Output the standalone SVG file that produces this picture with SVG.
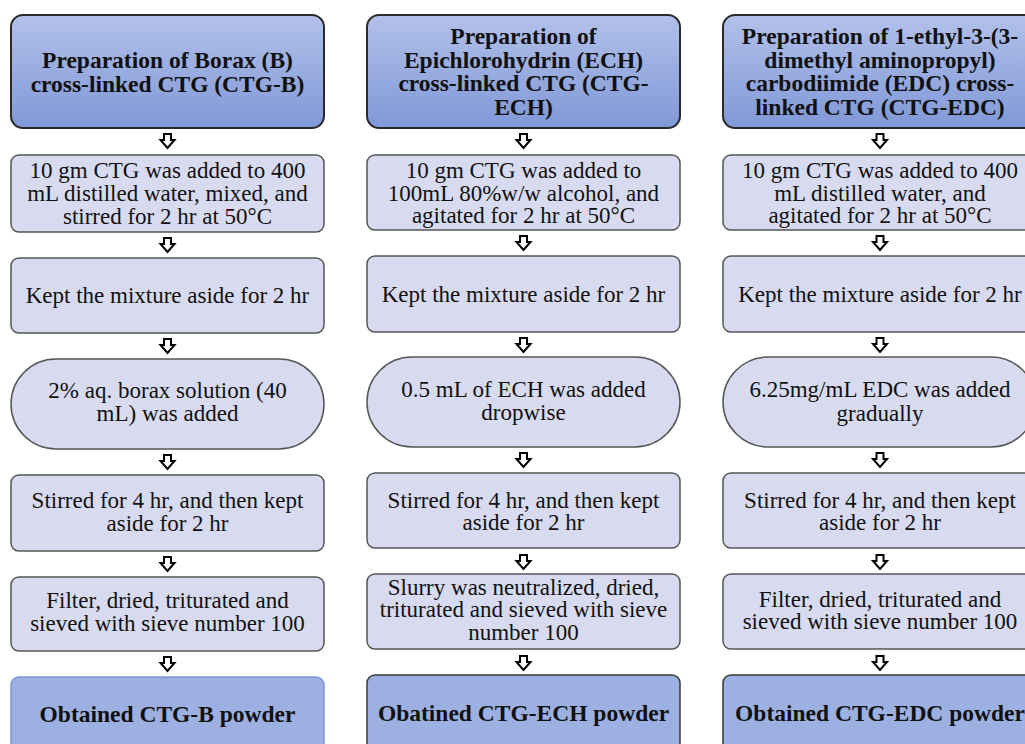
<svg xmlns="http://www.w3.org/2000/svg" xmlns:xlink="http://www.w3.org/1999/xlink" width="1025" height="744" viewBox="0 0 1025 744">
<defs>
<linearGradient id="hg" x1="0" y1="0" x2="0" y2="1">
<stop offset="0" stop-color="#B3C1EA"/>
<stop offset="1" stop-color="#7F98D7"/>
</linearGradient>
<path id="arr" d="M-3.5,0 h7 v6 h3.5 l-7,8 l-7,-8 h3.5 z" fill="#fff" stroke="#000" stroke-width="2" stroke-linejoin="miter"/>
<style>
.hdr{fill:url(#hg);stroke:#2a2a2a;stroke-width:2}
.step{fill:#D8DBEF;stroke:#555;stroke-width:1.5}
.fin{fill:#9CB1E2;stroke:#3a3a3a;stroke-width:1.5}
.fin1{fill:#9CB1E2;stroke:#7C96D4;stroke-width:1.5}
text{font-family:"Liberation Serif","Times New Roman",serif;fill:#111;text-anchor:middle}
.b{font-weight:bold;font-size:23.5px}
.n{font-size:23px}
</style>
</defs>
<rect width="1025" height="744" fill="#fff"/>

<g id="col1">
<g id="c1-h"><rect class="hdr" x="11" y="15" width="313" height="113" rx="12"/>
<text class="b" x="167.5" y="68">Preparation of Borax (B)</text>
<text class="b" x="167.5" y="92">cross-linked CTG (CTG-B)</text></g>
<g id="c1-s1"><rect class="step" x="11" y="155" width="313" height="77" rx="8"/>
<text class="n" x="167.5" y="178">10 gm CTG was added to 400</text>
<text class="n" x="167.5" y="201">mL distilled water, mixed, and</text>
<text class="n" x="167.5" y="224">stirred for 2 hr at 50°C</text></g>
<g id="c1-s2"><rect class="step" x="11" y="258" width="313" height="75" rx="8"/>
<text class="n" x="167.5" y="303">Kept the mixture aside for 2 hr</text></g>
<g id="c1-s3"><rect class="step" x="11" y="359" width="313" height="90" rx="45"/>
<text class="n" x="167.5" y="398">2% aq. borax solution (40</text>
<text class="n" x="167.5" y="421">mL) was added</text></g>
<g id="c1-s4"><rect class="step" x="11" y="475" width="313" height="76" rx="8"/>
<text class="n" x="167.5" y="508">Stirred for 4 hr, and then kept</text>
<text class="n" x="167.5" y="531">aside for 2 hr</text></g>
<g id="c1-s5"><rect class="step" x="11" y="577" width="313" height="74" rx="8"/>
<text class="n" x="167.5" y="608">Filter, dried, triturated and</text>
<text class="n" x="167.5" y="631">sieved with sieve number 100</text></g>
<g id="c1-f"><rect class="fin1" x="11" y="677" width="313" height="80" rx="8"/>
<text class="b" x="167.5" y="722">Obtained CTG-B powder</text></g>
</g>

<g id="col2">
<g id="c2-h"><rect class="hdr" x="367" y="15" width="313" height="113" rx="12"/>
<text class="b" x="523.5" y="44">Preparation of</text>
<text class="b" x="523.5" y="67.5">Epichlorohydrin (ECH)</text>
<text class="b" x="523.5" y="91">cross-linked CTG (CTG-</text>
<text class="b" x="523.5" y="114.5">ECH)</text></g>
<g id="c2-s1"><rect class="step" x="367" y="155" width="313" height="75" rx="8"/>
<text class="n" x="523.5" y="178">10 gm CTG was added to</text>
<text class="n" x="523.5" y="201">100mL 80%w/w alcohol, and</text>
<text class="n" x="523.5" y="223">agitated for 2 hr at 50°C</text></g>
<g id="c2-s2"><rect class="step" x="367" y="256" width="313" height="76" rx="8"/>
<text class="n" x="523.5" y="302">Kept the mixture aside for 2 hr</text></g>
<g id="c2-s3"><rect class="step" x="367" y="357" width="313" height="90" rx="45"/>
<text class="n" x="523.5" y="397">0.5 mL of ECH was added</text>
<text class="n" x="523.5" y="420">dropwise</text></g>
<g id="c2-s4"><rect class="step" x="367" y="473" width="313" height="75" rx="8"/>
<text class="n" x="523.5" y="508">Stirred for 4 hr, and then kept</text>
<text class="n" x="523.5" y="530">aside for 2 hr</text></g>
<g id="c2-s5"><rect class="step" x="367" y="574" width="313" height="75" rx="8"/>
<text class="n" x="523.5" y="595">Slurry was neutralized, dried,</text>
<text class="n" x="523.5" y="617">triturated and sieved with sieve</text>
<text class="n" x="523.5" y="640">number 100</text></g>
<g id="c2-f"><rect class="fin" x="367" y="675" width="313" height="82" rx="8"/>
<text class="b" x="523.5" y="721">Obatined CTG-ECH powder</text></g>
</g>

<g id="col3">
<g id="c3-h"><rect class="hdr" x="723" y="15" width="313" height="113" rx="12"/>
<text class="b" x="880" y="44">Preparation of 1-ethyl-3-(3-</text>
<text class="b" x="880" y="67.5">dimethyl aminopropyl)</text>
<text class="b" x="880" y="91">carbodiimide (EDC) cross-</text>
<text class="b" x="880" y="114.5">linked CTG (CTG-EDC)</text></g>
<g id="c3-s1"><rect class="step" x="723" y="155" width="313" height="75" rx="8"/>
<text class="n" x="880" y="178">10 gm CTG was added to 400</text>
<text class="n" x="880" y="201">mL distilled water, and</text>
<text class="n" x="880" y="223">agitated for 2 hr at 50°C</text></g>
<g id="c3-s2"><rect class="step" x="723" y="256" width="313" height="76" rx="8"/>
<text class="n" x="880" y="302">Kept the mixture aside for 2 hr</text></g>
<g id="c3-s3"><rect class="step" x="723" y="357" width="313" height="90" rx="45"/>
<text class="n" x="880" y="397">6.25mg/mL EDC was added</text>
<text class="n" x="880" y="421">gradually</text></g>
<g id="c3-s4"><rect class="step" x="723" y="473" width="313" height="75" rx="8"/>
<text class="n" x="880" y="508">Stirred for 4 hr, and then kept</text>
<text class="n" x="880" y="530">aside for 2 hr</text></g>
<g id="c3-s5"><rect class="step" x="723" y="574" width="313" height="75" rx="8"/>
<text class="n" x="880" y="607">Filter, dried, triturated and</text>
<text class="n" x="880" y="629">sieved with sieve number 100</text></g>
<g id="c3-f"><rect class="fin" x="723" y="675" width="313" height="82" rx="8"/>
<text class="b" x="880" y="721">Obtained CTG-EDC powder</text></g>
</g>

<g id="connectors">
<use xlink:href="#arr" x="167.5" y="134"/>
<use xlink:href="#arr" x="167.5" y="238"/>
<use xlink:href="#arr" x="167.5" y="339"/>
<use xlink:href="#arr" x="167.5" y="455"/>
<use xlink:href="#arr" x="167.5" y="557"/>
<use xlink:href="#arr" x="167.5" y="657"/>
<use xlink:href="#arr" x="523.5" y="134"/>
<use xlink:href="#arr" x="523.5" y="236"/>
<use xlink:href="#arr" x="523.5" y="338"/>
<use xlink:href="#arr" x="523.5" y="453"/>
<use xlink:href="#arr" x="523.5" y="555"/>
<use xlink:href="#arr" x="523.5" y="656"/>
<use xlink:href="#arr" x="880" y="134"/>
<use xlink:href="#arr" x="880" y="236"/>
<use xlink:href="#arr" x="880" y="338"/>
<use xlink:href="#arr" x="880" y="453"/>
<use xlink:href="#arr" x="880" y="555"/>
<use xlink:href="#arr" x="880" y="656"/>
</g>
</svg>
